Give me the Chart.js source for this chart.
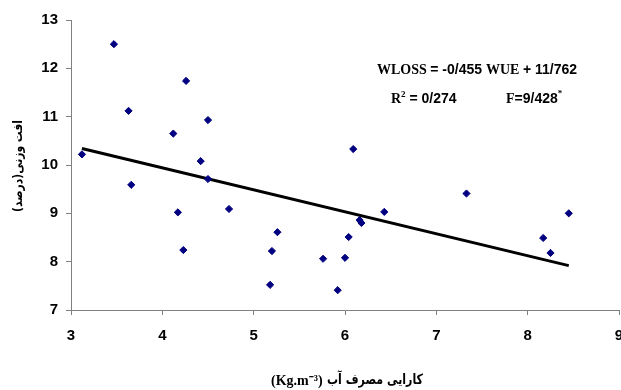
<!DOCTYPE html>
<html><head><meta charset="utf-8">
<script src="https://cdn.jsdelivr.net/npm/chart.js@4/dist/chart.umd.min.js"></script>
<style>html,body{margin:0;padding:0;background:#fff}#wrap{width:621px;height:390px}</style>
</head><body><div id="wrap"><canvas id="c" width="621" height="390"></canvas></div>
<script>
const wueValues = [3.12,3.47,3.63,3.66,4.12,4.17,4.23,4.26,4.42,4.50,4.50,4.73,5.18,5.20,5.26,5.76,5.92,6.00,6.04,6.09,6.16,6.18,6.43,7.33,8.17,8.25,8.45];
const lossValues = [10.22,12.50,11.12,9.59,10.65,9.02,8.24,11.74,10.08,10.93,9.71,9.09,7.52,8.22,8.61,8.06,7.41,8.08,8.51,10.33,8.86,8.80,9.03,9.41,8.49,8.18,9.00];
const slope = -0.455, intercept = 11.762;
const trendX = [3.12, 8.45];
const xTicks = [3,4,5,6,7,8,9];
const yTicks = [7,8,9,10,11,12,13];
const xTitleFa = 'کارایی مصرف آب';
const xTitleUnit = '(Kg.m⁻³)';
const yTitle = 'افت وزنی(درصد)';

const scatterData = wueValues.map((x,i)=>({x, y: lossValues[i]}));
const trendData = trendX.map(x=>({x, y: slope*x+intercept}));

const textPlugin = {
  id:'texts',
  afterDraw(chart){
    const ctx = chart.ctx;
    ctx.save();
    ctx.fillStyle = '#000';
    ctx.textBaseline = 'alphabetic';
    function seq(parts, x, y){
      let cx = x;
      for (const p of parts){
        ctx.font = p.f;
        ctx.fillText(p.t, cx, y + (p.dy||0));
        cx += ctx.measureText(p.t).width + (p.gap||0);
      }
    }
    const serif = "bold 14px 'Liberation Serif', 'Times New Roman', serif";
    const sans = "bold 14px 'Liberation Sans', Arial, sans-serif";
    ctx.textAlign = 'left';
    seq([{t:'WLOSS ', f:serif},{t:'= -0/455 ', f:sans},{t:'WUE ', f:serif},{t:'+ 11/762', f:sans}], 377, 74);
    seq([{t:'R', f:serif},{t:'2', f:"bold 9px 'Liberation Serif', serif", dy:-6},{t:' = 0/274', f:sans}], 391, 103);
    seq([{t:'F', f:serif},{t:'=9/428', f:sans},{t:'*', f:"bold 9px 'Liberation Serif', serif", dy:-7}], 506, 103);

    // x title
    ctx.font = "bold 14px 'Liberation Serif', 'Times New Roman', serif";
    ctx.textAlign = 'left';
    ctx.fillText(xTitleUnit, 271, 385);
    ctx.save();
    ctx.font = "bold 14px 'DejaVu Sans', sans-serif";
    ctx.direction = 'rtl';
    ctx.textAlign = 'right';
    const wFa = ctx.measureText(xTitleFa).width;
    ctx.translate(423, 384);
    ctx.scale(96 / wFa, 1);
    ctx.fillText(xTitleFa, 0, 0);
    ctx.restore();

    // y title
    ctx.translate(19, 166);
    ctx.rotate(-Math.PI/2);
    ctx.textAlign = 'center';
    ctx.direction = 'rtl';
    ctx.textBaseline = 'middle';
    ctx.font = "bold 13px 'DejaVu Sans', sans-serif";
    const wY = ctx.measureText(yTitle).width;
    ctx.scale(92 / wY, 1);
    ctx.fillText(yTitle, 0, 0);
    ctx.restore();
  }
};

new Chart(document.getElementById('c'), {
  data: {
    datasets: [
      { type:'scatter', data: scatterData, pointStyle:'rectRot', pointRadius:3.6,
        backgroundColor:'#000080', borderColor:'#000080', borderWidth:1, order:1 },
      { type:'line', data: trendData, borderColor:'#000', borderWidth:3, pointRadius:0,
        fill:false, order:2 }
    ]
  },
  options: {
    responsive:false, animation:false,
    layout:{ autoPadding:false, padding:{ top:20, right:2, left:0, bottom:0 } },
    plugins:{ legend:{display:false}, tooltip:{enabled:false} },
    scales:{
      x:{ type:'linear', min:3, max:9,
        afterBuildTicks(s){ s.ticks = xTicks.map(v=>({value:v})); },
        afterFit(s){ s.height = 80; s.paddingLeft = 0; s.paddingRight = 0; },
        border:{ color:'#808080', width:1 },
        grid:{ display:true, drawOnChartArea:false, drawTicks:true, tickLength:5, color:'#808080' },
        ticks:{ color:'#000', padding:12, maxRotation:0, autoSkip:false,
          font:{ family:"'Liberation Sans', Arial, sans-serif", size:15, weight:'bold' } }
      },
      y:{ type:'linear', min:7, max:13,
        afterBuildTicks(s){ s.ticks = yTicks.map(v=>({value:v})); },
        afterFit(s){ s.width = 71; s.paddingTop = 0; s.paddingBottom = 0; },
        border:{ color:'#808080', width:1 },
        grid:{ display:true, drawOnChartArea:false, drawTicks:true, tickLength:5, color:'#808080' },
        ticks:{ color:'#000', padding:8, autoSkip:false,
          font:{ family:"'Liberation Sans', Arial, sans-serif", size:15, weight:'bold' } }
      }
    }
  },
  plugins:[textPlugin]
});
</script></body></html>
